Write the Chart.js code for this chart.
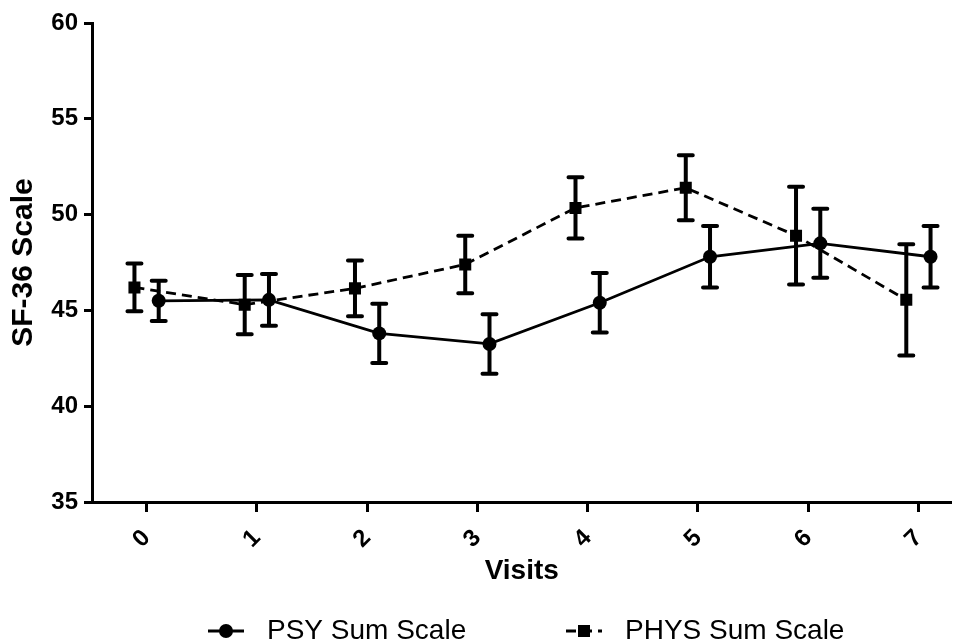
<!DOCTYPE html>
<html>
<head>
<meta charset="utf-8">
<script src="https://cdn.jsdelivr.net/npm/chart.js@4.4.1/dist/chart.umd.min.js"></script>
<style>
  html, body { margin: 0; padding: 0; background: #fff; }
  #chart { display: block; }
</style>
</head>
<body>
<canvas id="chart" width="960" height="643"></canvas>
<script>
// Data
const visits = [0, 1, 2, 3, 4, 5, 6, 7];
const yTicks = [35, 40, 45, 50, 55, 60];

const psyMean = [45.5, 45.55, 43.8, 43.25, 45.4, 47.8, 48.5, 47.8];
const psyErr = [1.05, 1.35, 1.55, 1.55, 1.55, 1.6, 1.8, 1.6];

const physMean = [46.2, 45.3, 46.15, 47.4, 50.35, 51.4, 48.9, 45.55];
const physErr = [1.25, 1.55, 1.45, 1.5, 1.6, 1.7, 2.55, 2.9];

// small horizontal nudge so the two series don't overlap
const SHIFT = 0.11;

const toPoints = (means, shift) => visits.map((v, i) => ({ x: v + shift, y: means[i] }));

const FONT = '"Liberation Sans", Arial, sans-serif';

// Error bars (SEM style, with caps)
const errorBars = {
    id: 'errorBars',
    afterDatasetsDraw(chart) {
        const { ctx, scales: { x, y } } = chart;
        ctx.save();
        ctx.strokeStyle = '#000';
        ctx.lineWidth = 4;
        ctx.lineCap = 'round';
        chart.data.datasets.forEach((ds) => {
            if (!ds.errors) return;
            ds.data.forEach((p, i) => {
                const px = x.getPixelForValue(p.x);
                const top = y.getPixelForValue(p.y + ds.errors[i]);
                const bot = y.getPixelForValue(p.y - ds.errors[i]);
                ctx.beginPath();
                ctx.moveTo(px, top);
                ctx.lineTo(px, bot);
                ctx.moveTo(px - 7, top);
                ctx.lineTo(px + 7, top);
                ctx.moveTo(px - 7, bot);
                ctx.lineTo(px + 7, bot);
                ctx.stroke();
            });
        });
        ctx.restore();
    }
};

// Bottom legend: line + marker, then label
const lineLegend = {
    id: 'lineLegend',
    afterDraw(chart) {
        const { ctx } = chart;
        const yMid = 631;
        const slots = [208, 566];
        ctx.save();
        ctx.font = '28px ' + FONT;
        ctx.textBaseline = 'middle';
        ctx.fillStyle = '#000';
        chart.data.datasets.forEach((ds, i) => {
            const x0 = slots[i];
            ctx.save();
            ctx.strokeStyle = '#000';
            ctx.lineWidth = 3;
            ctx.setLineDash(ds.borderDash || []);
            ctx.beginPath();
            ctx.moveTo(x0, yMid);
            ctx.lineTo(x0 + 36, yMid);
            ctx.stroke();
            ctx.restore();
            Chart.helpers.drawPoint(ctx, {
                pointStyle: ds.pointStyle,
                radius: ds.pointRadius,
                borderWidth: 0
            }, x0 + 18, yMid);
            ctx.fillText(ds.label, x0 + 59, yMid);
        });
        ctx.restore();
    }
};

new Chart(document.getElementById('chart'), {
    type: 'line',
    data: {
        datasets: [
            {
                label: 'PSY Sum Scale',
                data: toPoints(psyMean, SHIFT),
                errors: psyErr,
                borderColor: '#000',
                backgroundColor: '#000',
                borderWidth: 2.8,
                pointStyle: 'circle',
                pointRadius: 7,
                pointBorderWidth: 0,
                tension: 0
            },
            {
                label: 'PHYS Sum Scale',
                data: toPoints(physMean, -SHIFT),
                errors: physErr,
                borderColor: '#000',
                backgroundColor: '#000',
                borderWidth: 2.8,
                borderDash: [10, 6],
                pointStyle: 'rect',
                pointRadius: 8.5,
                pointBorderWidth: 0,
                tension: 0
            }
        ]
    },
    options: {
        responsive: false,
        animation: false,
        layout: { padding: { top: 23, right: 0, bottom: 55, left: 0 } },
        plugins: {
            legend: { display: false },
            tooltip: { enabled: false }
        },
        scales: {
            x: {
                type: 'linear',
                min: -0.495,
                max: 7.3,
                afterBuildTicks: (scale) => {
                    scale.ticks = visits.map(v => ({ value: v }));
                },
                afterFit: (scale) => {
                    scale.height = 86;
                    scale.paddingLeft = 0;
                    scale.paddingRight = 0;
                },
                border: { display: true, width: 3, color: '#000' },
                grid: {
                    drawOnChartArea: false,
                    drawTicks: true,
                    tickLength: 10,
                    tickWidth: 3,
                    tickColor: '#000'
                },
                ticks: {
                    minRotation: 45,
                    maxRotation: 45,
                    padding: 12,
                    color: '#000',
                    font: { family: FONT, size: 24, weight: 'bold' }
                },
                title: {
                    display: true,
                    text: 'Visits',
                    color: '#000',
                    padding: 0,
                    font: { family: FONT, size: 28, weight: 'bold' }
                }
            },
            y: {
                min: 35,
                max: 60,
                afterBuildTicks: (scale) => {
                    scale.ticks = yTicks.map(v => ({ value: v }));
                },
                afterFit: (scale) => { scale.width = 92; },
                border: { display: true, width: 3, color: '#000' },
                grid: {
                    drawOnChartArea: false,
                    drawTicks: true,
                    tickLength: 8,
                    tickWidth: 3,
                    tickColor: '#000'
                },
                ticks: {
                    padding: 6,
                    color: '#000',
                    font: { family: FONT, size: 24, weight: 'bold' }
                },
                title: {
                    display: true,
                    text: 'SF-36 Scale',
                    color: '#000',
                    padding: { top: 6, bottom: 0 },
                    font: { family: FONT, size: 30, weight: 'bold' }
                }
            }
        }
    },
    plugins: [errorBars, lineLegend]
});
</script>
</body>
</html>
